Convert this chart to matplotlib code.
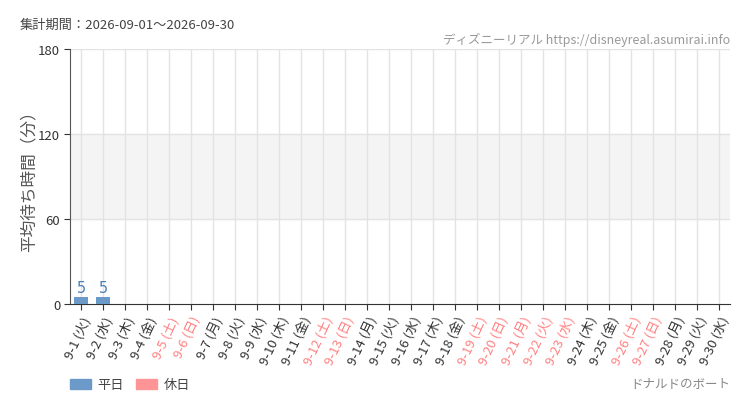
import matplotlib
matplotlib.use("Agg")
import matplotlib.pyplot as plt
from matplotlib.patches import Patch

plt.rcParams['font.family'] = ['Noto Sans CJK JP', 'DejaVu Sans']

days = list(range(1, 31))
weekdays = ["火", "水", "木", "金", "土", "日", "月"] * 5
weekdays = weekdays[:30]
holidays = [5, 6, 12, 13, 19, 20, 21, 22, 23, 26, 27]
values = [5, 5] + [None] * 28
period_text = "集計期間：2026-09-01～2026-09-30"
attraction = "ドナルドのボート"
site = "ディズニーリアル https://disneyreal.asumirai.info"

weekday_color = "#6b9ac8"
holiday_color = "#ff9496"
holiday_text = "#ff8080"

labels = [f"9-{d} ({w})" for d, w in zip(days, weekdays)]

fig = plt.figure(figsize=(7.5, 4.1), dpi=100)
fig.patch.set_facecolor("white")
ax = fig.add_axes([70/750, 1-305/410, 660/750, 255/410])

ax.axhspan(60, 120, color="#f4f4f4", zorder=0)
for yv in [60, 120, 180]:
    ax.axhline(yv, color="#e3e3e3", lw=1, zorder=1)
for i in range(len(days)):
    ax.axvline(i, color="#e3e3e3", lw=1, zorder=1)

for i, (d, v) in enumerate(zip(days, values)):
    if v is None:
        continue
    c = holiday_color if d in holidays else weekday_color
    ax.bar(i, v, width=0.68, color=c, zorder=3)
    ax.text(i, v + 1.5, str(v), ha="center", va="bottom", color="#4a7fb5",
            fontsize=11.5, fontfamily="DejaVu Sans", fontstretch="condensed", zorder=4)

ax.set_xlim(-0.5, len(days) - 0.5)
ax.set_ylim(0, 180)
ax.set_yticks([0, 60, 120, 180])
ax.set_yticklabels(["0", "60", "120", "180"], fontsize=9.5, color="#333333")
ax.set_xticks(range(len(days)))
ax.set_xticklabels(labels, rotation=65, ha="right", rotation_mode="anchor", fontsize=9.5)
for t, d in zip(ax.get_xticklabels(), days):
    t.set_color(holiday_text if d in holidays else "#333333")

for s in ["top", "right"]:
    ax.spines[s].set_visible(False)
ax.spines["left"].set_color("#555555")
ax.spines["bottom"].set_color("#333333")
ax.tick_params(axis="both", length=4, color="#333333", pad=3)
ax.set_ylabel("平均待ち時間（分）", fontsize=12, color="#555555")
ax.yaxis.set_label_coords(-(70 - 38) / 660, 0.5)

fig.text(20/750, 1-25/410, period_text, fontsize=9.5, color="#444444", va="center")
fig.text(730/750, 1-40/410, site, fontsize=9, color="#999999", ha="right", va="center",
         fontstretch="condensed")
fig.text(730/750, 1-385/410, attraction, fontsize=9, color="#888888", ha="right", va="center")

handles = [Patch(color=weekday_color, label="平日"), Patch(color=holiday_color, label="休日")]
fig.legend(handles=handles, loc="center left", bbox_to_anchor=(66/750, 1-386/410), ncol=2,
           frameon=False, fontsize=9.5, handlelength=1.6, handleheight=0.8, columnspacing=0.9,
           handletextpad=0.5, labelcolor="#444444", borderaxespad=0, borderpad=0.3)

fig.savefig("out.png", dpi=100, facecolor="white")
